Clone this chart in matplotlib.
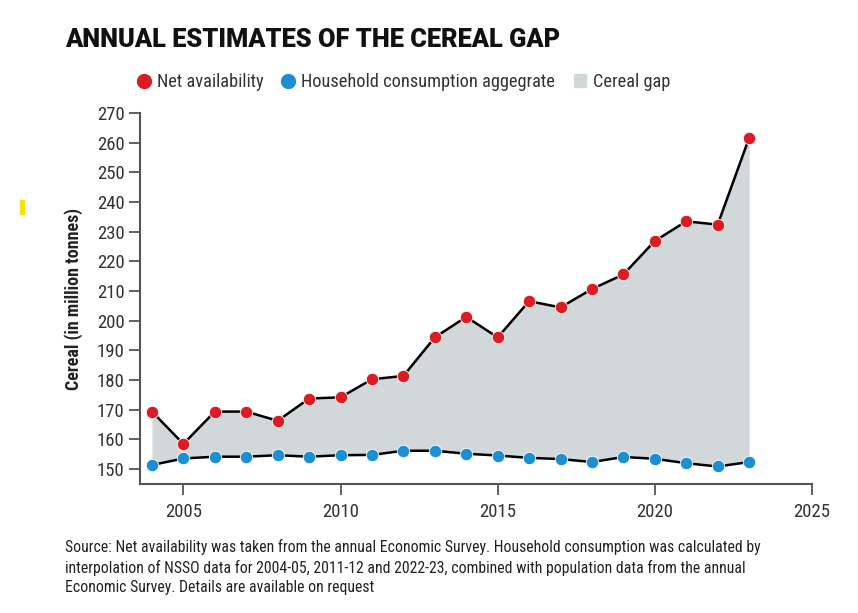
import matplotlib
matplotlib.use("Agg")
import matplotlib.pyplot as plt
from matplotlib.lines import Line2D
from matplotlib.patches import Patch, Rectangle

years = list(range(2004, 2024))
net_availability = [169.4, 158.5, 169.4, 169.4, 166.3, 173.8, 174.2, 180.3, 181.4, 194.4,
                    201.3, 194.4, 206.6, 204.5, 210.7, 215.6, 226.9, 233.5, 232.4, 261.6]
household_consumption = [151.4, 153.6, 154.2, 154.2, 154.7, 154.2, 154.7, 154.8, 156.2, 156.2,
                         155.2, 154.6, 153.8, 153.4, 152.4, 154.1, 153.5, 152.0, 150.9, 152.4]
x_ticks = [2005, 2010, 2015, 2020, 2025]
y_ticks = list(range(150, 271, 10))

title = "ANNUAL ESTIMATES OF THE CEREAL GAP"
legend_labels = ["Net availability", "Household consumption aggegrate", "Cereal gap"]
y_label = "Cereal (in million tonnes)"
source = ("Source: Net availability was taken from the annual Economic Survey. Household consumption was calculated by\n"
          "interpolation of NSSO data for 2004-05, 2011-12 and 2022-23, combined with population data from the annual\n"
          "Economic Survey. Details are available on request")

RED = "#dc1c24"
BLUE = "#1b8fd2"
GAP = "#d2d7da"
AXC = "#555555"
TXT = "#333333"

plt.rcParams['font.family'] = ['Roboto Condensed', 'DejaVu Sans']

fig = plt.figure(figsize=(8.58, 6.13), dpi=100)
fig.patch.set_facecolor("white")
ax = fig.add_axes([140/858, 1-484/613, (812-140)/858, (484-113)/613])

ax.fill_between(years, household_consumption, net_availability, color=GAP, linewidth=0, zorder=1)
ax.plot(years, net_availability, color="black", lw=1.8, zorder=2)
ax.plot(years, household_consumption, color="black", lw=1.8, zorder=2)
ax.scatter(years, net_availability, s=80, color=RED, edgecolor="white", linewidth=0.6, zorder=3)
ax.scatter(years, household_consumption, s=80, color=BLUE, edgecolor="white", linewidth=0.6, zorder=3)

ax.set_xlim(2003.62, 2025)
ax.set_ylim(145, 270)
ax.set_xticks(x_ticks)
ax.set_yticks(y_ticks)
for s in ["top", "right"]:
    ax.spines[s].set_visible(False)
for s in ["left", "bottom"]:
    ax.spines[s].set_color(AXC)
    ax.spines[s].set_linewidth(1.5)
ax.tick_params(axis="both", colors=AXC, width=1.3, length=8, labelsize=13.5, labelcolor=TXT)
ax.tick_params(axis="x", pad=6)
ax.tick_params(axis="y", pad=3)
ax.set_ylabel(y_label, fontsize=13, fontweight="bold", color="#222222", labelpad=10)

fig.text(65/858, 1-40/613, title, fontsize=18.3, fontweight=900, color="#111111",
         va="center", ha="left", family=['Roboto', 'DejaVu Sans'])

handles = [
    Line2D([], [], marker="o", linestyle="none", markersize=10, markerfacecolor=RED, markeredgecolor=RED),
    Line2D([], [], marker="o", linestyle="none", markersize=10, markerfacecolor=BLUE, markeredgecolor=BLUE),
    Patch(facecolor=GAP, edgecolor=GAP),
]
leg = fig.legend(handles, legend_labels, loc="center", bbox_to_anchor=(404/858, 1-82/613), ncol=3,
                 frameon=False, fontsize=13.2, handlelength=0.7, handletextpad=0.35, columnspacing=1.0,
                 labelcolor=TXT)

fig.text(65/858, 1-567/613, source, fontsize=11.3, color="#222222", va="center", ha="left", linespacing=1.35)

fig.add_artist(Rectangle((20/858, 1-214/613), 4/858, 14/613, color="#f5e400", transform=fig.transFigure))

fig.savefig("out.png", dpi=100)
